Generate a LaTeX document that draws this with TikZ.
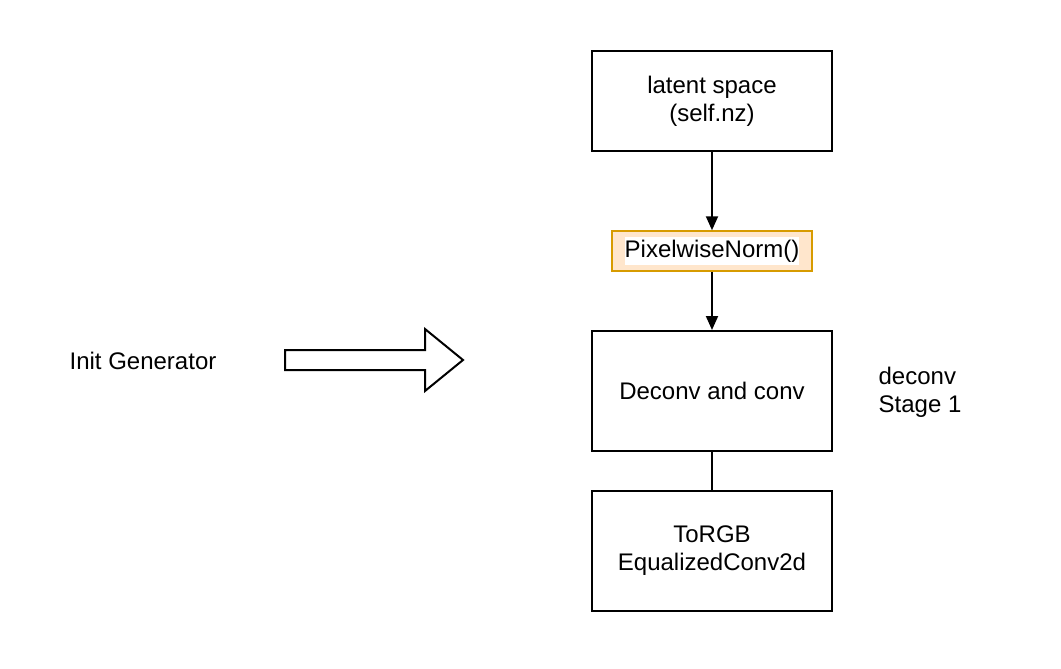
\documentclass[tikz,border=0pt]{standalone}
\usepackage{fontspec}
\setmainfont{Liberation Sans}
\usetikzlibrary{arrows.meta}
\definecolor{ofill}{HTML}{FFE6CC}
\definecolor{ostroke}{HTML}{D79B00}
\begin{document}
\begin{tikzpicture}[x=1pt,y=-1pt,
  font=\fontsize{24}{28}\selectfont,
  box/.style={draw=black,line width=2pt,minimum width=240pt,align=center,inner sep=0pt},
  nbox/.style={draw=ostroke,fill=ofill,line width=1.5pt,minimum width=200pt,minimum height=40pt,inner sep=0pt},
  conn/.style={line width=2pt},
  arr/.style={conn,-{Triangle[length=14pt,width=12pt]}},
  lbl/.style={align=left,inner sep=0pt}]
\useasboundingbox (0,0) rectangle (1061,669);
\fill[white] (0,0) rectangle (1061,669);
\node[box,minimum height=100pt] (latent) at (712,101) {latent space\\(self.nz)};
\node[nbox] (pix) at (712,251) {\colorbox{white}{\kern-3pt PixelwiseNorm()\kern-3pt}};
\node[box,minimum height=120pt] (deconv) at (712,391) {Deconv and conv};
\node[box,minimum height=120pt] (torgb) at (712,551) {ToRGB\\EqualizedConv2d};
\draw[arr] (latent) -- (pix);
\draw[arr] (pix) -- (deconv);
\draw[conn] (deconv) -- (torgb);
\node[lbl] (init) at (143,361) {Init Generator};
\node[lbl] (stage) at (920,392) {deconv\\Stage 1};
\draw[line width=2pt,line join=miter] (285,350) -- (425,350) -- (425,329) -- (463,360) -- (425,391) -- (425,370) -- (285,370) -- cycle;
\end{tikzpicture}
\end{document}
